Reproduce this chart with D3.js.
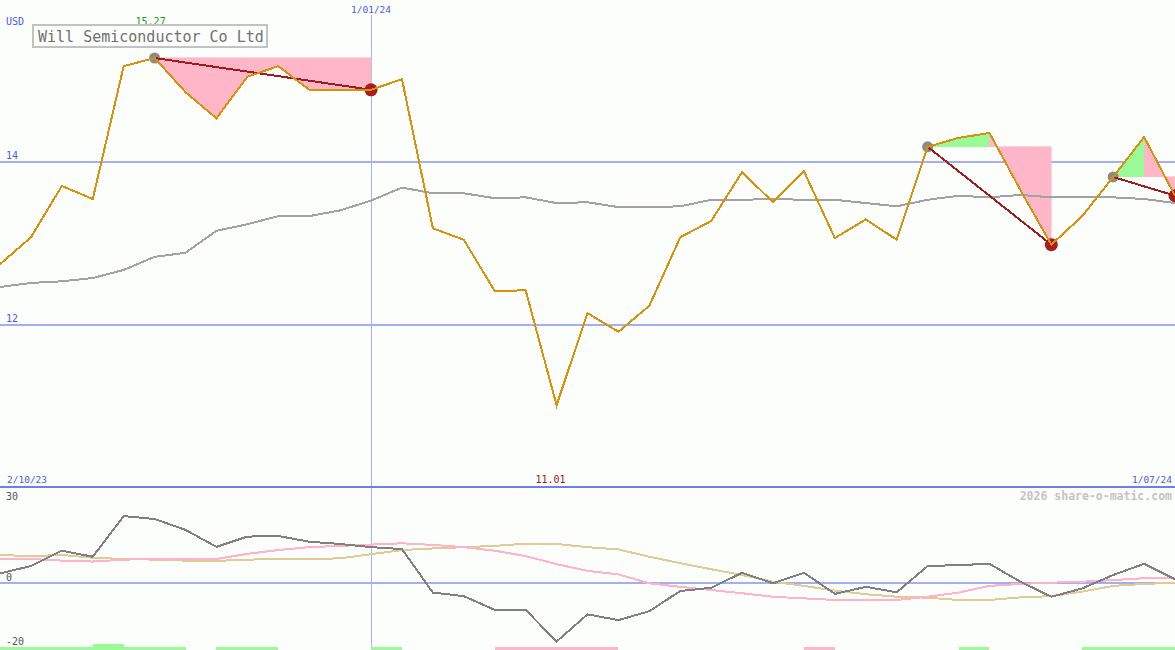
<!DOCTYPE html>
<html>
<head>
<meta charset="utf-8">
<script src="https://cdn.jsdelivr.net/npm/d3@7"></script>
<style>
  html, body { margin: 0; padding: 0; background: #fcfefb; }
  svg { display: block; }
  text { font-family: "DejaVu Sans Mono", "Liberation Mono", monospace; }
</style>
</head>
<body>
<div id="chart"></div>
<script>
// ---------- data ----------
const title = "Will Semiconductor Co Ltd";
const currency = "USD";
const xTickIndex = [0, 12, 38];
const xTickLabels = ["2/10/23", "1/01/24", "1/07/24"];
const priceTicks = [12, 14];
const oscTicks = [30, 0, -20];

const price = [12.74, 13.07, 13.70, 13.54, 15.17, 15.27, 14.85, 14.53, 15.04, 15.17,
               14.88, 14.88, 14.88, 15.01, 13.18, 13.04, 12.41, 12.42, 11.01, 12.14,
               11.91, 12.23, 13.07, 13.27, 13.87, 13.50, 13.88, 13.06, 13.29, 13.04,
               14.18, 14.29, 14.35, 13.65, 12.98, 13.33, 13.81, 14.30, 13.58];

const movingAvg = [12.46, 12.51, 12.53, 12.57, 12.67, 12.83, 12.88, 13.15, 13.23, 13.33,
                   13.33, 13.40, 13.52, 13.68, 13.61, 13.61, 13.55, 13.56, 13.49, 13.50,
                   13.44, 13.44, 13.45, 13.53, 13.53, 13.54, 13.53, 13.53, 13.49, 13.45,
                   13.53, 13.58, 13.56, 13.59, 13.56, 13.56, 13.56, 13.54, 13.49];

const oscillator = [3.0, 5.3, 10.1, 8.2, 20.9, 20.0, 16.6, 11.3, 14.5, 14.7,
                    12.9, 12.2, 11.2, 10.6, -3.0, -4.1, -8.4, -8.4, -18.3, -9.8,
                    -11.6, -8.8, -2.5, -1.5, 3.2, -0.1, 3.2, -3.4, -1.2, -2.9,
                    5.3, 5.6, 6.0, 0.4, -4.3, -1.7, 2.5, 6.0, 1.2];

const oscFast = [7.5, 7.5, 7.0, 6.7, 7.3, 7.5, 7.5, 7.5, 9.1, 10.3,
                 11.2, 11.6, 12.0, 12.4, 11.9, 11.2, 10.1, 8.4, 5.9, 3.8,
                 2.7, -0.1, -1.2, -2.2, -3.2, -4.3, -4.8, -5.3, -5.3, -5.3,
                 -4.3, -3.0, -0.9, -0.3, 0.1, 0.4, 0.9, 1.5, 1.5];

const oscSlow = [8.75, 8.4, 8.75, 7.9, 7.5, 7.3, 7.0, 6.9, 7.3, 7.5,
                 7.5, 7.7, 9.0, 10.3, 10.8, 11.2, 11.6, 12.3, 12.2, 11.2,
                 10.5, 8.2, 6.2, 4.3, 2.5, 0.4, -0.9, -2.4, -3.5, -4.3,
                 -4.6, -5.3, -5.3, -4.5, -4.1, -2.7, -0.9, -0.3, 0.1];

// signal per interval (i -> i+1): 1 green, 2 strong green, -1 pink, 0 none
const signals = [1, 1, 1, 2, 1, 1, 0, 1, 1, 0,
                 0, 0, 1, 0, 0, 0, -1, -1, -1, -1,
                 0, 0, 0, 0, 0, 0, -1, 0, 0, 0,
                 0, 1, 0, 0, 0, 1, 1, 1];

const tradeStart = [5, 30, 36];
const tradeEnd = [12, 34, 38];

const maxLabel = "15.27";
const minLabel = "11.01";
const copyright = "2026 share-o-matic.com";

// ---------- layout ----------
const W = 1175, H = 650;
const svg = d3.select("#chart").append("svg")
  .attr("width", W).attr("height", H);

svg.append("rect").attr("width", W).attr("height", H).attr("fill", "#fcfefb");

const x = d3.scaleLinear().domain([0, price.length - 1]).range([0, W]);
const y = d3.scaleLinear().domain([12, 14]).range([324.5, 161.5]);
const y2 = d3.scaleLinear().domain([-20, 30]).range([647, 487]);

const blue = "#4a5ce8";
const grid = "#a3aff2";
const crisp = "crispEdges";

// gridlines top
svg.selectAll(".pgrid").data(priceTicks).join("line")
  .attr("x1", 0).attr("x2", W)
  .attr("y1", d => y(d)).attr("y2", d => y(d))
  .attr("stroke", grid).attr("stroke-width", 2).attr("shape-rendering", crisp);

svg.selectAll(".plab").data(priceTicks).join("text")
  .attr("x", 6).attr("y", d => y(d) - 3)
  .attr("font-size", 10).attr("fill", blue).text(d => d);

// lower zero line
svg.append("line").attr("x1", 0).attr("x2", W)
  .attr("y1", y2(0)).attr("y2", y2(0))
  .attr("stroke", grid).attr("stroke-width", 2).attr("shape-rendering", crisp);

// vertical date line
svg.append("line")
  .attr("x1", x(xTickIndex[1])).attr("x2", x(xTickIndex[1]))
  .attr("y1", 15).attr("y2", H)
  .attr("stroke", "#a4b2f6").attr("stroke-width", 1).attr("shape-rendering", crisp);

// separator
svg.append("line").attr("x1", 0).attr("x2", W).attr("y1", 487).attr("y2", 487)
  .attr("stroke", "#6f7fe8").attr("stroke-width", 2).attr("shape-rendering", crisp);

// trade fills (per segment)
tradeStart.forEach((s, k) => {
  const e = tradeEnd[k];
  const base = price[s];
  for (let i = s; i < e; i++) {
    const col = price[i + 1] >= base ? "#98fb98" : "#ffb6c8";
    const pts = [[x(i), y(base)], [x(i), y(price[i])], [x(i + 1), y(price[i + 1])], [x(i + 1), y(base)]];
    svg.append("path")
      .attr("d", "M" + pts.map(p => p.join(",")).join("L") + "Z")
      .attr("fill", col).attr("stroke", col).attr("stroke-width", 0.6)
      .attr("shape-rendering", crisp);
  }
});

// moving average
const line = d3.line().x((d, i) => x(i)).y(d => y(d));
svg.append("path").datum(movingAvg).attr("d", line)
  .attr("fill", "none").attr("stroke", "#a2a2a2").attr("stroke-width", 2)
  .attr("shape-rendering", crisp);

// trade markers & lines
tradeStart.forEach((s, k) => {
  const e = tradeEnd[k];
  svg.append("circle").attr("cx", x(s)).attr("cy", y(price[s])).attr("r", 5.5)
    .attr("fill", "#8a8a8a");
  svg.append("circle").attr("cx", x(e)).attr("cy", y(price[e])).attr("r", 6.5)
    .attr("fill", "#a81c1c");
  svg.append("line")
    .attr("x1", x(s)).attr("y1", y(price[s]))
    .attr("x2", x(e)).attr("y2", y(price[e]))
    .attr("stroke", "#a01c1c").attr("stroke-width", 2).attr("shape-rendering", crisp);
});

// price line
svg.append("path").datum(price).attr("d", line)
  .attr("fill", "none").attr("stroke", "#d8920a").attr("stroke-width", 2)
  .attr("stroke-linejoin", "miter").attr("shape-rendering", crisp);

// lower panel lines
const line2 = d3.line().x((d, i) => x(i)).y(d => y2(d));
[[oscSlow, "#e2c998"], [oscFast, "#ffb2c8"], [oscillator, "#808080"]].forEach(([arr, c]) => {
  svg.append("path").datum(arr).attr("d", line2)
    .attr("fill", "none").attr("stroke", c).attr("stroke-width", 2)
    .attr("shape-rendering", crisp);
});

// signal bars
svg.selectAll(".sig").data(signals.map((v, i) => ({ v, i })).filter(d => d.v !== 0)).join("rect")
  .attr("x", d => x(d.i)).attr("width", d => x(d.i + 1) - x(d.i))
  .attr("y", d => d.v === 2 ? 644 : 646.5)
  .attr("height", d => d.v === 2 ? 6 : 3.5)
  .attr("fill", d => d.v > 0 ? "#98fb98" : "#ffb6c8")
  .attr("shape-rendering", crisp);

// lower panel labels
svg.selectAll(".olab").data(oscTicks).join("text")
  .attr("x", 6)
  .attr("y", d => d === 30 ? 500 : y2(d) - 2)
  .attr("font-size", 10).attr("fill", "#555").text(d => d);

// texts
svg.append("text").attr("x", 6).attr("y", 25).attr("font-size", 10).attr("fill", blue).text(currency);

const imax = price.indexOf(d3.max(price));
const imin = price.indexOf(d3.min(price));
svg.append("text").attr("x", x(imax) - 4).attr("y", 25).attr("text-anchor", "middle")
  .attr("font-size", 10).attr("fill", "#1a9a1a").text(maxLabel);
svg.append("text").attr("x", x(imin) - 6).attr("y", 483).attr("text-anchor", "middle")
  .attr("font-size", 10).attr("fill", "#a01818").text(minLabel);

svg.append("text").attr("x", x(xTickIndex[1])).attr("y", 13).attr("text-anchor", "middle")
  .attr("font-size", 9.5).attr("fill", blue).text(xTickLabels[1]);
svg.append("text").attr("x", 7).attr("y", 483)
  .attr("font-size", 9.5).attr("fill", blue).text(xTickLabels[0]);
svg.append("text").attr("x", W - 3).attr("y", 483).attr("text-anchor", "end")
  .attr("font-size", 9.5).attr("fill", blue).text(xTickLabels[2]);

svg.append("text").attr("x", W - 3).attr("y", 500).attr("text-anchor", "end")
  .attr("font-size", 11.5).attr("font-weight", "bold").attr("fill", "#c4c4c4").text(copyright);

// title box
svg.append("rect").attr("x", 33).attr("y", 25).attr("width", 234).attr("height", 22)
  .attr("fill", "#fcfefb").attr("stroke", "#c2c2c2").attr("stroke-width", 2)
  .attr("shape-rendering", crisp);
svg.append("text").attr("x", 38).attr("y", 41.5).attr("font-size", 15)
  .attr("fill", "#707070").text(title);
</script>
</body>
</html>
